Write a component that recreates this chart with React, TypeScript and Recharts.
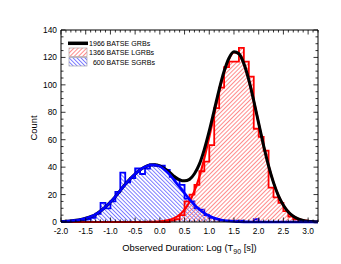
import React from 'react';
import { ComposedChart, Area, Line, XAxis, YAxis, Legend, ReferenceLine } from 'recharts';

// bin left edges (log T90), bin width 0.1
const binEdges = [
  -2.0, -1.9, -1.8, -1.7, -1.6, -1.5, -1.4, -1.3, -1.2, -1.1,
  -1.0, -0.9, -0.8, -0.7, -0.6, -0.5, -0.4, -0.3, -0.2, -0.1,
  0.0, 0.1, 0.2, 0.3, 0.4, 0.5, 0.6, 0.7, 0.8, 0.9,
  1.0, 1.1, 1.2, 1.3, 1.4, 1.5, 1.6, 1.7, 1.8, 1.9,
  2.0, 2.1, 2.2, 2.3, 2.4, 2.5, 2.6, 2.7, 2.8, 2.9,
  3.0, 3.1, 3.2,
];

// 600 BATSE SGRBs histogram counts
const sgrbCounts = [
  0, 0, 0, 1, 1, 2, 3, 6, 14, 10,
  15, 22, 36, 29, 32, 39, 35, 39, 42, 41,
  41, 38, 33, 31, 27, 17, 15, 10, 9, 5,
  3, 2, 1, 1, 1, 1, 1, 0, 0, 2,
  0, 0, 0, 0, 0, 0, 0, 0, 0, 0,
  0, 0, 0,
];

// 1366 BATSE LGRBs histogram counts
const lgrbCounts = [
  0, 0, 0, 0, 0, 0, 0, 0, 0, 0,
  0, 0, 0, 0, 0, 0, 0, 0, 0, 0,
  0, 0, 1, 2, 5, 15, 20, 27, 37, 44,
  56, 83, 98, 113, 117, 117, 127, 117, 106, 68,
  62, 52, 25, 18, 14, 8, 4, 2, 1, 1,
  0, 0, 0,
];

// fitted curves
const sgrbFit = [
  0.3, 0.5, 0.8, 1.2, 1.8, 2.7, 3.9, 5.5, 8, 11,
  14.5, 18.5, 23, 27.5, 31.5, 35, 38, 40.2, 41.5, 41.6,
  40.5, 38, 34.5, 30, 25.5, 21, 16.5, 12.5, 9.2, 6.5,
  4.4, 2.9, 1.8, 1.1, 0.7, 0.4, 0.2, 0.1, 0.1, 0,
  0, 0, 0, 0, 0, 0, 0, 0, 0, 0,
  0, 0, 0,
];

const lgrbFit = [
  0, 0, 0, 0, 0, 0, 0, 0, 0, 0,
  0, 0, 0, 0, 0, 0, 0, 0, 0.1, 0.2,
  0.4, 0.8, 1.6, 3, 5.3, 9, 14.6, 22.7, 33, 46.5,
  62, 78.5, 94.8, 108.8, 118.9, 123.7, 122.5, 115.4, 103.6, 88.4,
  71.9, 55.6, 40.9, 28.7, 19.1, 12.2, 7.3, 4.2, 2.3, 1.2,
  0.6, 0.3, 0.1,
];

const totalFit = [
  0.3, 0.5, 0.8, 1.2, 1.8, 2.7, 3.9, 5.5, 8, 11,
  14.5, 18.5, 23, 27.5, 31.5, 35, 38, 40.2, 41.6, 41.8,
  40.9, 38.8, 36.1, 33, 30.8, 30, 31.1, 35.2, 42.2, 53,
  66.4, 81.4, 96.6, 109.9, 119.6, 124.1, 122.7, 115.5, 103.7, 88.4,
  71.9, 55.6, 40.9, 28.7, 19.1, 12.2, 7.3, 4.2, 2.3, 1.2,
  0.6, 0.3, 0.1,
];

const xMajorTicks = [-2.0, -1.5, -1.0, -0.5, 0.0, 0.5, 1.0, 1.5, 2.0, 2.5, 3.0];
const xMajorLabels = ['-2.0', '-1.5', '-1.0', '-0.5', '0.0', '0.5', '1.0', '1.5', '2.0', '2.5', '3.0'];
const yMajorTicks = [0, 20, 40, 60, 80, 100, 120, 140];
const yMajorLabels = ['0', '20', '40', '60', '80', '100', '120', '140'];

const legendCounts = ['1966', '1366', '600'];
const legendNames = ['BATSE GRBs', 'BATSE LGRBs', 'BATSE SGRBs'];

const xAllTicks: number[] = [];
for (let i = -20; i <= 32; i++) xAllTicks.push(Math.round(i) / 10);
const yAllTicks: number[] = [];
for (let i = 0; i <= 140; i += 5) yAllTicks.push(i);

const tableRows = binEdges.map((x, i) => ({
  x,
  sgrb: sgrbCounts[i],
  lgrb: lgrbCounts[i],
  sgrbFit: sgrbFit[i],
  lgrbFit: lgrbFit[i],
  totalFit: totalFit[i],
}));

const W = 341;
const H = 264;
const PL = 61;
const PR = 318;
const PT = 30;
const PB = 222;
const FONT = '"Liberation Sans", Arial, Helvetica, sans-serif';

const majorIdx = (arr: number[], v: number) => arr.findIndex((t) => Math.abs(t - v) < 1e-6);

const BottomTick = (props: any) => {
  const { x, payload } = props;
  const v = payload.value;
  const mi = majorIdx(xMajorTicks, v);
  const len = mi >= 0 ? 4.5 : 2.5;
  return (
    <g>
      <line x1={x} x2={x} y1={PB} y2={PB - len} stroke="#000" strokeWidth={0.8} />
      <line x1={x} x2={x} y1={PT} y2={PT + len} stroke="#000" strokeWidth={0.8} />
      {mi >= 0 && (
        <text x={x} y={PB + 11.5} textAnchor="middle" fontSize={8.4} fill="#000" fontFamily={FONT}>
          {xMajorLabels[mi]}
        </text>
      )}
    </g>
  );
};

const LeftTick = (props: any) => {
  const { y, payload } = props;
  const v = payload.value;
  const mi = majorIdx(yMajorTicks, v);
  const len = mi >= 0 ? 4.5 : 2.5;
  return (
    <g>
      <line x1={PL} x2={PL + len} y1={y} y2={y} stroke="#000" strokeWidth={0.8} />
      <line x1={PR} x2={PR - len} y1={y} y2={y} stroke="#000" strokeWidth={0.8} />
      {mi >= 0 && (
        <text x={PL - 4} y={y + 3} textAnchor="end" fontSize={8.4} fill="#000" fontFamily={FONT}>
          {yMajorLabels[mi]}
        </text>
      )}
    </g>
  );
};

const XTitle = (props: any) => {
  const vb = props.viewBox || { x: PL, width: PR - PL };
  const cx = vb.x + vb.width / 2;
  return (
    <text x={cx} y={251} textAnchor="middle" fontSize={9.4} fill="#000" fontFamily={FONT}>
      Observed Duration: Log (T
      <tspan dy={2.5} fontSize={7}>90</tspan>
      <tspan dy={-2.5} fontSize={9.4}> [s])</tspan>
    </text>
  );
};

const YTitle = () => (
  <text
    x={37}
    y={128}
    transform="rotate(-90, 37, 128)"
    textAnchor="middle"
    fontSize={9.4}
    fill="#000"
    fontFamily={FONT}
  >
    Count
  </text>
);

const LegendBox = () => (
  <svg width={120} height={32} style={{ display: 'block', overflow: 'visible' }}>
    <defs>
      <pattern id="lgRed" patternUnits="userSpaceOnUse" width="3" height="3" patternTransform="rotate(45)">
        <line x1="1.5" y1="0" x2="1.5" y2="3" stroke="#ff6666" strokeWidth="0.75" />
      </pattern>
      <pattern id="lgBlue" patternUnits="userSpaceOnUse" width="2.8" height="2.8" patternTransform="rotate(-45)">
        <line x1="1.4" y1="0" x2="1.4" y2="2.8" stroke="#4444ff" strokeWidth="0.7" />
      </pattern>
    </defs>
    <line x1={2} x2={22} y1={6.3} y2={6.3} stroke="#000" strokeWidth={3.5} />
    <rect x={3} y={11} width={18} height={8.5} fill="url(#lgRed)" stroke="#b0a0a0" strokeWidth={0.7} />
    <rect x={3} y={20.5} width={18} height={8.5} fill="url(#lgBlue)" stroke="#a0a0b0" strokeWidth={0.7} />
    {legendNames.map((name, i) => {
      const yy = [8.9, 17.9, 27.5][i];
      const cx = i === 2 ? 26.9 : 23;
      return (
        <text key={name} y={yy} fontSize={7.1} fill="#000" fontFamily={FONT}>
          <tspan x={cx}>{legendCounts[i]}</tspan>
          <tspan x={40.6}>{name}</tspan>
        </text>
      );
    })}
  </svg>
);

export default function App() {
  return (
    <div style={{ position: 'absolute', left: 0, top: 0, width: W, height: H, background: '#fff', fontFamily: FONT }}>
      <ComposedChart
        width={W}
        height={H}
        data={tableRows}
        margin={{ top: PT, right: W - PR, bottom: 0, left: 0 }}
      >
        <defs>
          <pattern id="hatchRed" patternUnits="userSpaceOnUse" width="3" height="3" patternTransform="rotate(45)">
            <line x1="1.5" y1="0" x2="1.5" y2="3" stroke="#ff6666" strokeWidth="0.75" />
          </pattern>
          <pattern id="hatchBlue" patternUnits="userSpaceOnUse" width="2.8" height="2.8" patternTransform="rotate(-45)">
            <line x1="1.4" y1="0" x2="1.4" y2="2.8" stroke="#4444ff" strokeWidth="0.7" />
          </pattern>
        </defs>
        <XAxis
          dataKey="x"
          type="number"
          domain={[-2, 3.2]}
          ticks={xAllTicks}
          interval={0}
          height={H - PB}
          tickLine={false}
          axisLine={{ stroke: '#000', strokeWidth: 1 }}
          tick={<BottomTick />}
          label={{ content: XTitle }}
        />
        <YAxis
          type="number"
          domain={[0, 140]}
          ticks={yAllTicks}
          interval={0}
          width={PL}
          tickLine={false}
          axisLine={{ stroke: '#000', strokeWidth: 1 }}
          tick={<LeftTick />}
          label={{ content: YTitle }}
        />
        <ReferenceLine y={140} stroke="#000" strokeWidth={1} />
        <ReferenceLine x={3.2} stroke="#000" strokeWidth={1} />
        <Area
          type="stepAfter"
          dataKey="sgrb"
          stroke="#0000ff"
          strokeWidth={1.8}
          fill="url(#hatchBlue)"
          fillOpacity={1}
          isAnimationActive={false}
          dot={false}
          activeDot={false}
        />
        <Area
          type="stepAfter"
          dataKey="lgrb"
          stroke="#ff0000"
          strokeWidth={1.8}
          fill="url(#hatchRed)"
          fillOpacity={1}
          isAnimationActive={false}
          dot={false}
          activeDot={false}
        />
        <Line type="monotone" dataKey="lgrbFit" stroke="#ff0000" strokeWidth={2.2} dot={false} activeDot={false} isAnimationActive={false} />
        <Line type="monotone" dataKey="totalFit" stroke="#000000" strokeWidth={3} dot={false} activeDot={false} isAnimationActive={false} />
        <Line type="monotone" dataKey="sgrbFit" stroke="#0000ff" strokeWidth={2.6} dot={false} activeDot={false} isAnimationActive={false} />
        <Legend
          layout="vertical"
          align="center"
          verticalAlign="middle"
          content={<LegendBox />}
          wrapperStyle={{ position: 'absolute', left: 66, top: 37, width: 120, height: 32 }}
        />
      </ComposedChart>
    </div>
  );
}
